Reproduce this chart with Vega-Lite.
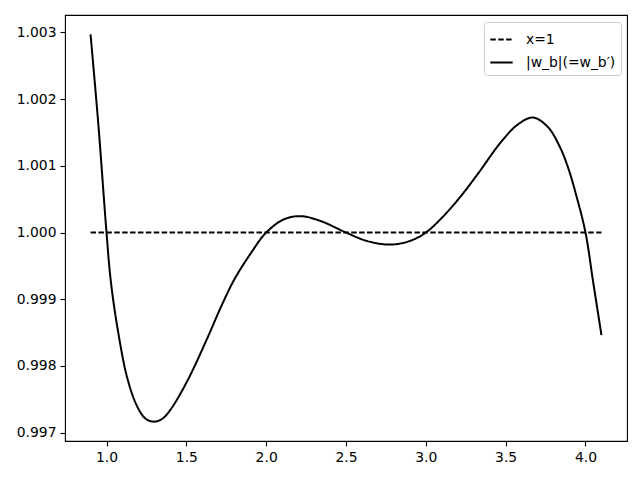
{
  "$schema": "https://vega.github.io/schema/vega-lite/v6.json",
  "autosize": "none",
  "padding": {"left": 65, "top": 15, "right": 13, "bottom": 39},
  "width": 562,
  "height": 426,
  "background": "white",
  "config": {
    "view": {"stroke": "black", "strokeWidth": 1.1},
    "font": "DejaVu Sans",
    "axis": {
      "grid": false,
      "domain": false,
      "tickColor": "black",
      "tickSize": 5,
      "tickWidth": 1.1,
      "labelColor": "black",
      "labelFont": "DejaVu Sans",
      "labelFontSize": 13.9,
      "labelPadding": 4,
      "title": null
    }
  },
  "data": {
    "values": [
      {"series": "x=1", "x": 0.9, "y": 1.0},
      {"series": "x=1", "x": 4.1, "y": 1.0},
      {"series": "|w_b|(=w_b′)", "x": 0.9, "y": 1.00297},
      {"series": "|w_b|(=w_b′)", "x": 0.949, "y": 1.001615},
      {"series": "|w_b|(=w_b′)", "x": 1.0, "y": 1.0},
      {"series": "|w_b|(=w_b′)", "x": 1.026, "y": 0.99929},
      {"series": "|w_b|(=w_b′)", "x": 1.068, "y": 0.99858},
      {"series": "|w_b|(=w_b′)", "x": 1.13, "y": 0.99782},
      {"series": "|w_b|(=w_b′)", "x": 1.193, "y": 0.99739},
      {"series": "|w_b|(=w_b′)", "x": 1.245, "y": 0.99721},
      {"series": "|w_b|(=w_b′)", "x": 1.297, "y": 0.997166},
      {"series": "|w_b|(=w_b′)", "x": 1.35, "y": 0.99721},
      {"series": "|w_b|(=w_b′)", "x": 1.402, "y": 0.99735},
      {"series": "|w_b|(=w_b′)", "x": 1.507, "y": 0.99778},
      {"series": "|w_b|(=w_b′)", "x": 1.632, "y": 0.99842},
      {"series": "|w_b|(=w_b′)", "x": 1.716, "y": 0.99888},
      {"series": "|w_b|(=w_b′)", "x": 1.799, "y": 0.99929},
      {"series": "|w_b|(=w_b′)", "x": 1.904, "y": 0.99969},
      {"series": "|w_b|(=w_b′)", "x": 2.0, "y": 1.0},
      {"series": "|w_b|(=w_b′)", "x": 2.113, "y": 1.0002},
      {"series": "|w_b|(=w_b′)", "x": 2.218, "y": 1.000245},
      {"series": "|w_b|(=w_b′)", "x": 2.344, "y": 1.00017},
      {"series": "|w_b|(=w_b′)", "x": 2.5, "y": 1.0},
      {"series": "|w_b|(=w_b′)", "x": 2.636, "y": 0.99987},
      {"series": "|w_b|(=w_b′)", "x": 2.782, "y": 0.99982},
      {"series": "|w_b|(=w_b′)", "x": 2.907, "y": 0.99988},
      {"series": "|w_b|(=w_b′)", "x": 3.0, "y": 1.0},
      {"series": "|w_b|(=w_b′)", "x": 3.096, "y": 1.00021},
      {"series": "|w_b|(=w_b′)", "x": 3.211, "y": 1.00052},
      {"series": "|w_b|(=w_b′)", "x": 3.326, "y": 1.00088},
      {"series": "|w_b|(=w_b′)", "x": 3.472, "y": 1.00136},
      {"series": "|w_b|(=w_b′)", "x": 3.577, "y": 1.00162},
      {"series": "|w_b|(=w_b′)", "x": 3.671, "y": 1.001724},
      {"series": "|w_b|(=w_b′)", "x": 3.765, "y": 1.00158},
      {"series": "|w_b|(=w_b′)", "x": 3.838, "y": 1.00129},
      {"series": "|w_b|(=w_b′)", "x": 3.89, "y": 1.00098},
      {"series": "|w_b|(=w_b′)", "x": 3.943, "y": 1.00055},
      {"series": "|w_b|(=w_b′)", "x": 4.0, "y": 1.0},
      {"series": "|w_b|(=w_b′)", "x": 4.048, "y": 0.99926},
      {"series": "|w_b|(=w_b′)", "x": 4.1, "y": 0.998462}
    ]
  },
  "mark": {"type": "line", "strokeWidth": 2, "color": "black", "interpolate": "catmull-rom"},
  "encoding": {
    "x": {
      "field": "x",
      "type": "quantitative",
      "scale": {"domain": [0.74, 4.26], "nice": false, "zero": false},
      "axis": {"values": [1.0, 1.5, 2.0, 2.5, 3.0, 3.5, 4.0], "format": ".1f"}
    },
    "y": {
      "field": "y",
      "type": "quantitative",
      "scale": {"domain": [0.996876, 1.00326], "nice": false, "zero": false},
      "axis": {"values": [0.997, 0.998, 0.999, 1.0, 1.001, 1.002, 1.003], "format": ".3f"}
    },
    "strokeDash": {
      "field": "series",
      "type": "nominal",
      "scale": {"domain": ["x=1", "|w_b|(=w_b′)"], "range": [[5.5, 2.4], [1, 0]]},
      "legend": {
        "title": null,
        "orient": "none",
        "legendX": 419,
        "legendY": 7,
        "symbolType": "stroke",
        "symbolSize": 500,
        "symbolStrokeWidth": 2,
        "symbolStrokeColor": "black",
        "labelFont": "DejaVu Sans",
        "labelFontSize": 13.9,
        "labelColor": "black",
        "strokeColor": "#cccccc",
        "fillColor": "white",
        "cornerRadius": 3,
        "padding": 5,
        "rowPadding": 3,
        "labelOffset": 12
      }
    }
  }
}
